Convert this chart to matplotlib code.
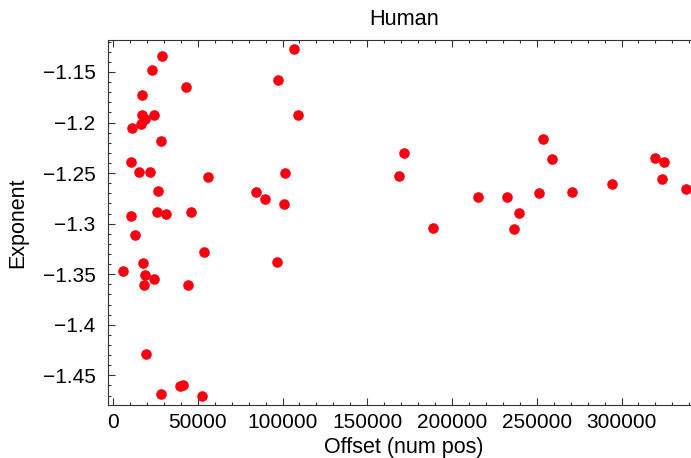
import matplotlib
matplotlib.use("Agg")
import matplotlib.pyplot as plt
from matplotlib.ticker import MultipleLocator

# offset (num pos) and fitted exponent
offset = [29000, 23000, 42800, 17100, 17100, 23900, 18600, 16700, 11400, 28300,
          10400, 15300, 21800, 56000, 26500, 25900, 31400, 46200, 10400, 12700,
          53800, 17900, 5700, 18900, 24300, 18000, 44000, 19500, 28600, 39800,
          41300, 52800, 107000, 97400, 109400, 101700, 84500, 89600, 100600, 97000,
          171900, 168900, 188600, 215100, 232200, 239500, 236500, 251100, 253400, 258700,
          270900, 294500, 320000, 324900, 323900, 337900]
exponent = [-1.1342, -1.1476, -1.1644, -1.1727, -1.1928, -1.1928, -1.1967, -1.2014, -1.2059, -1.2185,
            -1.2389, -1.2491, -1.2491, -1.2538, -1.2679, -1.2883, -1.2909, -1.2886, -1.2926, -1.3114,
            -1.3282, -1.3393, -1.3466, -1.3506, -1.3548, -1.3611, -1.3605, -1.4290, -1.4688, -1.4603,
            -1.4599, -1.4707, -1.1269, -1.1582, -1.1921, -1.2498, -1.2689, -1.2761, -1.2807, -1.3383,
            -1.2300, -1.2524, -1.3044, -1.2741, -1.2741, -1.2896, -1.3057, -1.2699, -1.2162, -1.2363,
            -1.2686, -1.2610, -1.2350, -1.2395, -1.2560, -1.2656]

plt.rcParams['font.family'] = ['Liberation Sans', 'DejaVu Sans']

fig = plt.figure(figsize=(6.91, 4.58), dpi=100)
ax = fig.add_axes([108 / 691, 1 - 405 / 458, 1 - 108 / 691, 365 / 458])

ax.scatter(offset, exponent, s=58, color='#fa0010', linewidths=0, zorder=3, clip_on=False)

ax.set_xlim(-2950, 341000)
ax.set_ylim(-1.4793, -1.1184)

ax.xaxis.set_major_locator(MultipleLocator(50000))
ax.xaxis.set_minor_locator(MultipleLocator(10000))
ax.yaxis.set_major_locator(MultipleLocator(0.05))
ax.yaxis.set_minor_locator(MultipleLocator(0.01))
ax.xaxis.set_major_formatter(plt.FuncFormatter(lambda v, p: f"{v:.0f}"))
ax.yaxis.set_major_formatter(plt.FuncFormatter(
    lambda v, p: f"{v:.2f}".rstrip('0').replace('-', '\u2212')))

ax.spines['right'].set_visible(False)
for s in ['left', 'bottom', 'top']:
    ax.spines[s].set_linewidth(0.8)
    ax.spines[s].set_color('#333333')

ax.tick_params(which='both', direction='in', top=True, right=False, labelsize=15,
               color='#333333', width=0.8)
ax.tick_params(which='major', length=5, pad=6)
ax.tick_params(which='minor', length=2.5)
ax.tick_params(axis='y', which='major', pad=9)

# Mathematica centres the title/label slightly right of the visible frame
ax.set_title('Human', fontsize=15.7, pad=11, x=0.5077)
ax.set_xlabel('Offset (num pos)', fontsize=15.5, labelpad=3)
ax.xaxis.label.set_x(0.5077)
ax.set_ylabel('Exponent', fontsize=15.5, labelpad=10)

fig.savefig('out.png', dpi=100)
